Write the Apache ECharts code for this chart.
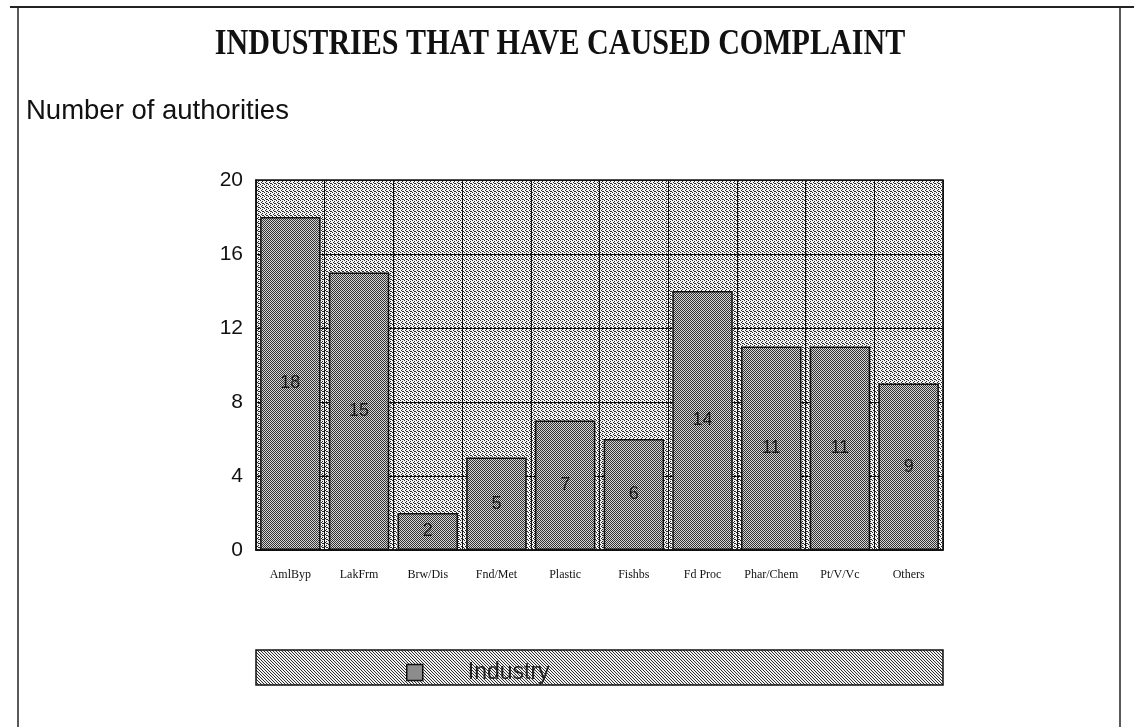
<!DOCTYPE html>
<html>
<head>
<meta charset="utf-8">
<script src="https://cdn.jsdelivr.net/npm/echarts@6/dist/echarts.min.js"></script>
<style>
  html, body { margin: 0; padding: 0; background: #fff; }
  #chart { width: 1144px; height: 727px; }
</style>
</head>
<body>
<div id="chart"></div>
<script>
// Industries named in complaints, and how many authorities reported each
const categories = ['AmlByp', 'LakFrm', 'Brw/Dis', 'Fnd/Met', 'Plastic', 'Fishbs', 'Fd Proc', 'Phar/Chem', 'Pt/V/Vc', 'Others'];
const authorities = [18, 15, 2, 5, 7, 6, 14, 11, 11, 9];
const yTicks = [0, 4, 8, 12, 16, 20];
const seriesName = 'Industry';
const chartTitle = 'INDUSTRIES THAT HAVE CAUSED COMPLAINT';
const axisTitle = 'Number of authorities';

// Small stipple tiles used as fills
function stipple(light, dark, size, dots) {
  const c = document.createElement('canvas');
  c.width = size; c.height = size;
  const g = c.getContext('2d');
  g.fillStyle = light; g.fillRect(0, 0, size, size);
  g.fillStyle = dark;
  dots.forEach(([x, y]) => g.fillRect(x, y, 1, 1));
  return c;
}
const bgTile = stipple('#f4f4f4', '#2a2a2a', 4, [[0, 0], [2, 1], [1, 2], [3, 3], [2, 3]]);
const barTile = stipple('#d4d4d4', '#333333', 2, [[0, 0], [1, 1]]);
const legendTile = stipple('#f2f2f2', '#2e2e2e', 3, [[0, 0], [1, 1], [2, 2]]);

const chart = echarts.init(document.getElementById('chart'), null, { renderer: 'canvas' });

const grid = { left: 256, right: 201, top: 180, bottom: 177 };

chart.setOption({
  animation: false,
  backgroundColor: '#ffffff',
  title: [
    {
      text: axisTitle,
      left: 21, top: 92,
      textStyle: { fontFamily: 'Liberation Sans', fontWeight: 'normal', fontSize: 27.5, color: '#111' }
    }
  ],
  graphic: [
    // condensed serif heading
    {
      type: 'text', x: 560, y: 45, scaleX: 0.835,
      style: { text: chartTitle, font: 'bold 36px "Liberation Serif"', fill: '#111', textAlign: 'center', textVerticalAlign: 'middle' }
    },
    // page frame
    { type: 'line', shape: { x1: 10, y1: 7, x2: 1134, y2: 7 }, style: { stroke: '#222', lineWidth: 2 } },
    { type: 'line', shape: { x1: 18, y1: 8, x2: 18, y2: 727 }, style: { stroke: '#222', lineWidth: 1.5 } },
    { type: 'line', shape: { x1: 1120, y1: 8, x2: 1120, y2: 727 }, style: { stroke: '#222', lineWidth: 1.5 } },
    // plot background
    { type: 'rect', z: -1, shape: { x: 256, y: 180, width: 687, height: 370 }, style: { fill: { image: bgTile, repeat: 'repeat' } } },
    // legend panel
    { type: 'rect', z: -1, shape: { x: 256, y: 650, width: 687, height: 35 }, style: { fill: { image: legendTile, repeat: 'repeat' }, stroke: '#111', lineWidth: 1.5 } }
  ],
  legend: {
    left: 401, top: 656,
    itemWidth: 16, itemHeight: 16,
    icon: 'rect',
    itemStyle: { color: '#8c8c8c', borderColor: '#111', borderWidth: 1.5 },
    textStyle: { fontFamily: 'Liberation Sans', fontSize: 23, color: '#222', padding: [0, 0, 0, 40] },
    data: [seriesName]
  },
  grid: Object.assign({ show: true, borderColor: '#111', borderWidth: 1.5, backgroundColor: 'transparent' }, grid),
  xAxis: {
    type: 'category',
    data: categories,
    axisLine: { show: true, lineStyle: { color: '#111', width: 1.5 } },
    axisTick: { show: false },
    splitLine: { show: true, interval: 0, lineStyle: { color: '#111', width: 1 } },
    axisLabel: { interval: 0, margin: 19, fontFamily: 'Liberation Serif', fontSize: 12, color: '#111' }
  },
  yAxis: {
    type: 'value',
    min: yTicks[0], max: yTicks[yTicks.length - 1], interval: 4,
    axisLine: { show: true, lineStyle: { color: '#111', width: 1.5 } },
    axisTick: { show: false },
    splitLine: { show: true, lineStyle: { color: '#111', width: 1 } },
    axisLabel: { margin: 13, fontFamily: 'Liberation Sans', fontSize: 21, color: '#111' }
  },
  series: [{
    name: seriesName,
    type: 'bar',
    data: authorities,
    barCategoryGap: '12%',
    itemStyle: { color: { image: barTile, repeat: 'repeat' }, borderColor: '#111', borderWidth: 1.5 },
    label: { show: true, position: 'inside', fontFamily: 'Liberation Sans', fontSize: 18, color: '#1a1a1a' }
  }]
});
</script>
</body>
</html>
